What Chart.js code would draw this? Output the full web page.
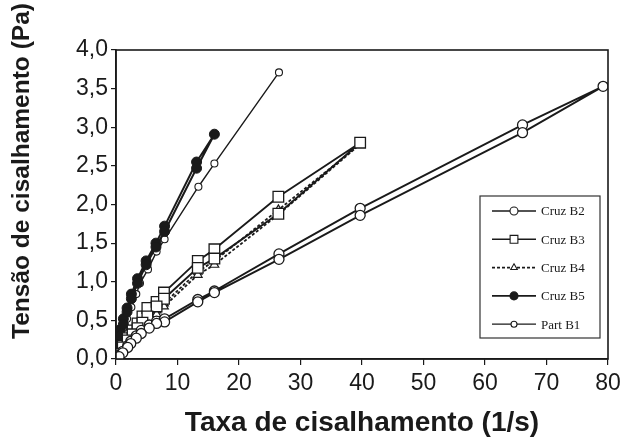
<!DOCTYPE html>
<html>
<head>
<meta charset="utf-8">
<script src="https://cdn.jsdelivr.net/npm/chart.js@4"></script>
<style>
  html, body { margin: 0; padding: 0; background: #fff; }
  #wrap { width: 633px; height: 444px; }
</style>
</head>
<body>
<div id="wrap"><canvas id="chart" width="633" height="444"></canvas></div>
<script>
// Cruz B2 - up then down branch
const b2X = [0.5, 1.1, 1.9, 2.4, 3.3, 4.1, 5.4, 6.6, 7.9, 13.3, 16.0, 26.5, 39.7, 66.1, 79.2,
             66.1, 39.7, 26.5, 16.0, 13.3, 7.9, 6.6, 5.4, 4.1, 3.3, 2.4, 1.9, 1.1, 0.5];
const b2Y = [0.05, 0.10, 0.17, 0.23, 0.30, 0.37, 0.44, 0.49, 0.52, 0.77, 0.88, 1.36, 1.95, 3.03, 3.53,
             2.93, 1.86, 1.29, 0.86, 0.74, 0.48, 0.46, 0.40, 0.33, 0.27, 0.20, 0.15, 0.08, 0.03];

// Cruz B3
const b3X = [0.5, 1.1, 1.9, 2.7, 3.5, 4.3, 5.1, 6.6, 7.8, 13.3, 16.0, 26.4, 39.7,
             26.4, 16.0, 13.3, 7.8, 6.6, 5.1, 4.3, 3.5, 2.7, 1.9, 1.1, 0.5];
const b3Y = [0.08, 0.17, 0.27, 0.37, 0.46, 0.55, 0.66, 0.74, 0.86, 1.27, 1.42, 2.10, 2.80,
             1.88, 1.30, 1.18, 0.78, 0.68, 0.55, 0.47, 0.40, 0.32, 0.24, 0.15, 0.07];

// Cruz B4
const b4X = [0.5, 1.1, 1.9, 2.7, 3.5, 4.3, 5.1, 6.6, 7.8, 13.3, 16.0, 26.4, 39.7,
             26.4, 16.0, 13.3, 7.8, 6.6, 5.1, 4.3, 3.5, 2.7, 1.9, 1.1, 0.5];
const b4Y = [0.05, 0.13, 0.22, 0.30, 0.38, 0.45, 0.53, 0.63, 0.72, 1.13, 1.27, 1.93, 2.78,
             1.87, 1.22, 1.09, 0.68, 0.58, 0.48, 0.41, 0.34, 0.27, 0.19, 0.11, 0.04];

// Cruz B5
const b5X = [0.2, 0.4, 0.7, 1.2, 1.8, 2.5, 3.5, 4.9, 6.5, 7.9, 13.1, 16.0,
             13.1, 7.9, 6.5, 4.9, 3.5, 2.5, 1.8, 1.2, 0.7, 0.4, 0.2];
const b5Y = [0.12, 0.25, 0.38, 0.52, 0.66, 0.84, 1.04, 1.27, 1.50, 1.72, 2.55, 2.91,
             2.47, 1.65, 1.45, 1.22, 0.98, 0.78, 0.61, 0.45, 0.30, 0.18, 0.06];

// Part B1
const p1X = [0.3, 0.7, 1.2, 1.8, 2.5, 3.3, 3.9, 5.2, 6.6, 7.9, 13.4, 16.0, 26.5];
const p1Y = [0.15, 0.28, 0.40, 0.52, 0.67, 0.84, 0.98, 1.16, 1.39, 1.55, 2.23, 2.53, 3.71];

const seriesNames = ["Cruz B2", "Cruz B3", "Cruz B4", "Cruz B5", "Part B1"];
const xTitle = "Taxa de cisalhamento (1/s)";
const yTitle = "Tensão de cisalhamento (Pa)";

function pts(xs, ys) {
    return xs.map((x, i) => ({ x: x, y: ys[i] }));
}

const INK = "#1a1a1a";

const datasets = [
    { label: seriesNames[0], data: pts(b2X, b2Y), pointStyle: "circle", pointRadius: 5,
      backgroundColor: "#fff", borderWidth: 1.9, pointBorderWidth: 1.3 },
    { label: seriesNames[1], data: pts(b3X, b3Y), pointStyle: "rect", pointRadius: 7.5,
      backgroundColor: "#fff", borderWidth: 1.9, pointBorderWidth: 1.3 },
    { label: seriesNames[2], data: pts(b4X, b4Y), pointStyle: "triangle", pointRadius: 5,
      backgroundColor: "#fff", borderWidth: 1.8, pointBorderWidth: 1.2, borderDash: [3, 2] },
    { label: seriesNames[3], data: pts(b5X, b5Y), pointStyle: "circle", pointRadius: 5,
      backgroundColor: INK, borderWidth: 2, pointBorderWidth: 1 },
    { label: seriesNames[4], data: pts(p1X, p1Y), pointStyle: "circle", pointRadius: 3.5,
      backgroundColor: "#fff", borderWidth: 1.4, pointBorderWidth: 1.1 }
].map(d => Object.assign({
    showLine: true,
    borderColor: INK,
    pointBorderColor: INK,
    pointBackgroundColor: d.backgroundColor,
    fill: false,
    tension: 0
}, d));

// frame, rotated y title and legend box
const extras = {
    id: "extras",
    afterDraw(chart) {
        const ctx = chart.ctx;
        const a = chart.chartArea;
        ctx.save();
        ctx.strokeStyle = INK;
        ctx.lineWidth = 1.6;
        ctx.strokeRect(a.left, a.top, a.right - a.left, a.bottom - a.top);

        ctx.translate(22, 171);
        ctx.rotate(-Math.PI / 2);
        ctx.fillStyle = INK;
        ctx.font = "bold 24.5px 'Liberation Sans', Arial, sans-serif";
        ctx.textAlign = "center";
        ctx.textBaseline = "middle";
        ctx.fillText(yTitle, 0, 0);
        ctx.restore();

        // legend
        ctx.save();
        ctx.strokeStyle = "#333";
        ctx.lineWidth = 1.2;
        ctx.strokeRect(480, 196, 120, 142);
        const sizes = [4, 5.5, 3.8, 4, 3];
        chart.data.datasets.forEach((ds, i) => {
            const y = 211 + i * 28.3;
            ctx.strokeStyle = INK;
            ctx.lineWidth = i === 4 ? 1.2 : 1.6;
            ctx.setLineDash(ds.borderDash || []);
            ctx.beginPath();
            ctx.moveTo(492, y);
            ctx.lineTo(536, y);
            ctx.stroke();
            ctx.setLineDash([]);
            ctx.fillStyle = ds.pointBackgroundColor;
            ctx.lineWidth = 1.1;
            Chart.helpers.drawPoint(ctx, {
                pointStyle: ds.pointStyle, radius: sizes[i], rotation: 0, borderWidth: 1.1
            }, 514, y);
            ctx.fillStyle = INK;
            ctx.font = "13px 'Liberation Serif', 'Times New Roman', serif";
            ctx.textBaseline = "middle";
            ctx.fillText(ds.label, 541, y + 1);
        });
        ctx.restore();
    }
};

new Chart(document.getElementById("chart"), {
    type: "scatter",
    data: { datasets: datasets },
    plugins: [extras],
    options: {
        responsive: false,
        animation: false,
        layout: { padding: { left: 0, right: 25, top: 50, bottom: 0 } },
        plugins: {
            legend: { display: false },
            tooltip: { enabled: false }
        },
        scales: {
            x: {
                type: "linear",
                min: 0,
                max: 80,
                afterFit: s => { s.height = 85; },
                border: { display: true, color: INK, width: 1.6 },
                grid: { drawOnChartArea: false, drawTicks: true, tickLength: 6, color: INK, lineWidth: 1.2 },
                ticks: {
                    stepSize: 10,
                    color: INK,
                    padding: 5,
                    font: { family: "'Liberation Sans', Arial, sans-serif", size: 23 }
                },
                title: {
                    display: true,
                    text: xTitle,
                    color: INK,
                    padding: { top: 9 },
                    font: { family: "'Liberation Sans', Arial, sans-serif", size: 28, weight: "bold" }
                }
            },
            y: {
                type: "linear",
                min: 0,
                max: 4,
                afterFit: s => { s.width = 116; },
                border: { display: true, color: INK, width: 1.6 },
                grid: { drawOnChartArea: false, drawTicks: true, tickLength: 5, color: INK, lineWidth: 1.2 },
                ticks: {
                    stepSize: 0.5,
                    color: INK,
                    padding: 3,
                    font: { family: "'Liberation Sans', Arial, sans-serif", size: 23 },
                    callback: v => v.toFixed(1).replace(".", ",")
                }
            }
        }
    }
});
</script>
</body>
</html>
